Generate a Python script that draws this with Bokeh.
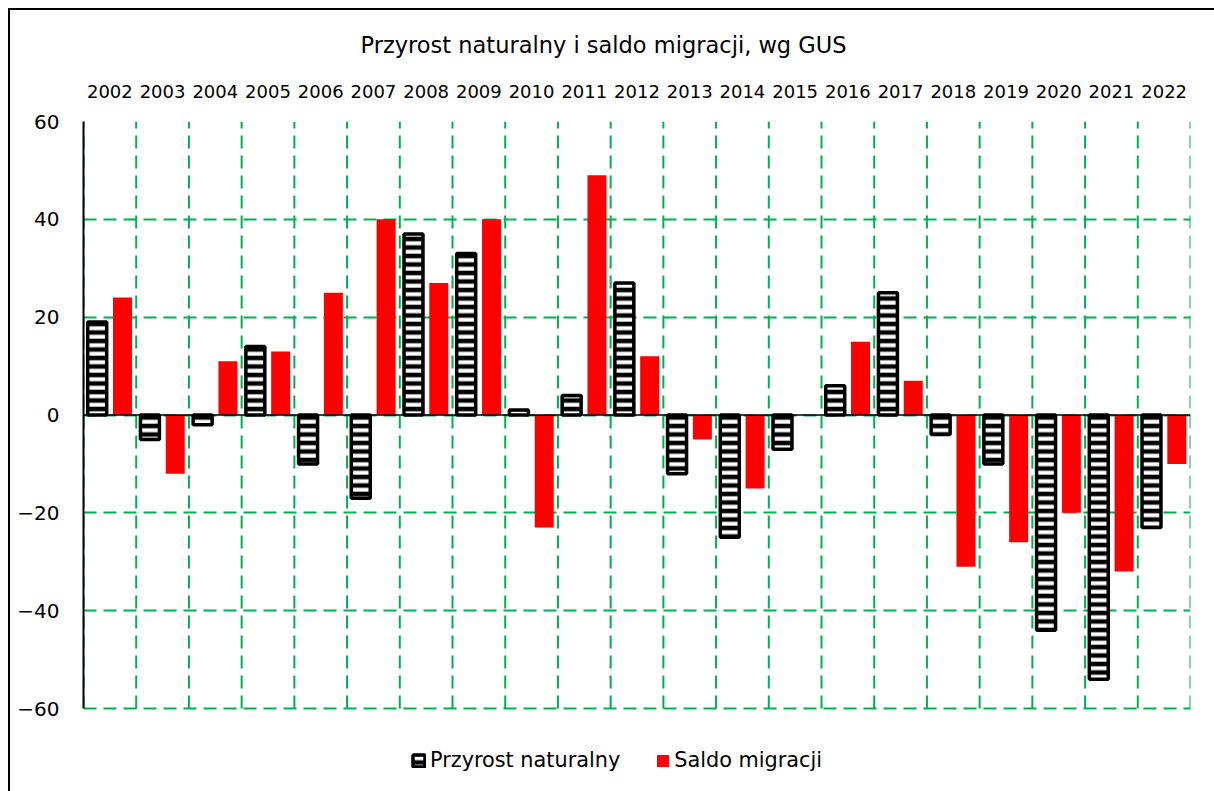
from bokeh.plotting import figure
from bokeh.models import (Range1d, FixedTicker, Span, Legend, LegendItem)
from bokeh.embed import file_html
from bokeh.resources import INLINE

years = ["2002", "2003", "2004", "2005", "2006", "2007", "2008", "2009", "2010", "2011",
         "2012", "2013", "2014", "2015", "2016", "2017", "2018", "2019", "2020", "2021", "2022"]
przyrost_naturalny = [19, -5, -2, 14, -10, -17, 37, 33, 1, 4, 27, -12, -25, -7, 6, 25, -4, -10, -44, -54, -23]
saldo_migracji = [24, -12, 11, 13, 25, 40, 27, 40, -23, 49, 12, -5, -15, 0, 15, 7, -31, -26, -20, -32, -10]
y_ticks = [-60, -40, -20, 0, 20, 40, 60]
title_text = "Przyrost naturalny i saldo migracji, wg GUS"

FONT = "DejaVu Sans"
GREEN = "#00B050"

idx = list(range(len(years)))
x_nat = [i - 0.24 for i in idx]
x_mig = [i + 0.24 for i in idx]
cat_bounds = [i - 0.5 for i in range(len(years) + 1)]

# frame extends below -60 to leave room for the legend inside the plotting area
Y_MIN, Y_MAX = min(y_ticks), max(y_ticks)
px_per_unit = (708 - 121) / (Y_MAX - Y_MIN)
y_start = Y_MIN - (781 - 708) / px_per_unit

p = figure(width=1214, height=791,
           x_range=Range1d(-0.5, len(years) - 0.5), y_range=Range1d(y_start, Y_MAX),
           x_axis_location="above", output_backend="svg", toolbar_location=None,
           min_border_left=83, min_border_right=24, min_border_top=121, min_border_bottom=10,
           title=title_text)
p.outline_line_color = None
p.background_fill_color = "white"
p.border_fill_alpha = 0
p.styles = {
    "background-color": "white",
    "background-image": "linear-gradient(black, black), linear-gradient(black, black)",
    "background-size": "2px 100%, 100% 2px",
    "background-position": "8px 8px, 8px 8px",
    "background-repeat": "no-repeat",
}

p.title.align = "left"
p.title.text_font = FONT
p.title.text_font_size = "22.5px"
p.title.text_font_style = "normal"
p.title.text_color = "black"
p.title.standoff = 48
p.title.offset = 277

# x axis (above)
xa = p.xaxis[0]
xa.ticker = FixedTicker(ticks=idx)
xa.major_label_overrides = {i: y for i, y in zip(idx, years)}
xa.axis_line_color = None
xa.major_tick_line_color = None
xa.minor_tick_line_color = None
xa.major_label_standoff = 18
xa.major_label_text_font = FONT
xa.major_label_text_font_size = "18px"
xa.major_label_text_color = "black"

ya = p.yaxis[0]
ya.ticker = FixedTicker(ticks=y_ticks)
ya.bounds = (Y_MIN, Y_MAX)
ya.axis_line_color = "black"
ya.axis_line_width = 2
ya.major_tick_line_color = None
ya.minor_tick_line_color = None
ya.major_label_standoff = 18
ya.major_label_text_font = FONT
ya.major_label_text_font_size = "20px"
ya.major_label_text_color = "black"

# grids
p.xgrid.visible = False
p.ygrid.grid_line_color = GREEN
p.ygrid.grid_line_width = 2
p.ygrid.grid_line_dash = "13 7"
p.ygrid.ticker = FixedTicker(ticks=y_ticks)
p.segment(x0=cat_bounds, y0=[Y_MIN] * len(cat_bounds), x1=cat_bounds, y1=[Y_MAX] * len(cat_bounds),
          line_color=GREEN, line_width=2, line_dash="13 7")

r_nat = p.vbar(x=x_nat, top=przyrost_naturalny, bottom=0, width=0.36,
               fill_color="black", line_color="black", line_width=3.5,
               hatch_pattern="horizontal_line", hatch_color="white",
               hatch_weight=4, hatch_scale=8.5)
r_mig = p.vbar(x=x_mig, top=saldo_migracji, bottom=0, width=0.36,
               fill_color="#FF0000", line_color=None)

p.add_layout(Span(location=0, dimension="width", line_color="black", line_width=1.5))

legend = Legend(items=[LegendItem(label="Przyrost naturalny", renderers=[r_nat]),
                       LegendItem(label="Saldo migracji", renderers=[r_mig])],
                orientation="horizontal", location=(328, 9),
                label_text_font=FONT, label_text_font_size="20.8px",
                label_text_color="black", glyph_width=15, glyph_height=15,
                label_standoff=4, spacing=35, border_line_color=None,
                background_fill_alpha=0)
p.add_layout(legend, "center")

open("out.html", "w").write(file_html(p, INLINE))
